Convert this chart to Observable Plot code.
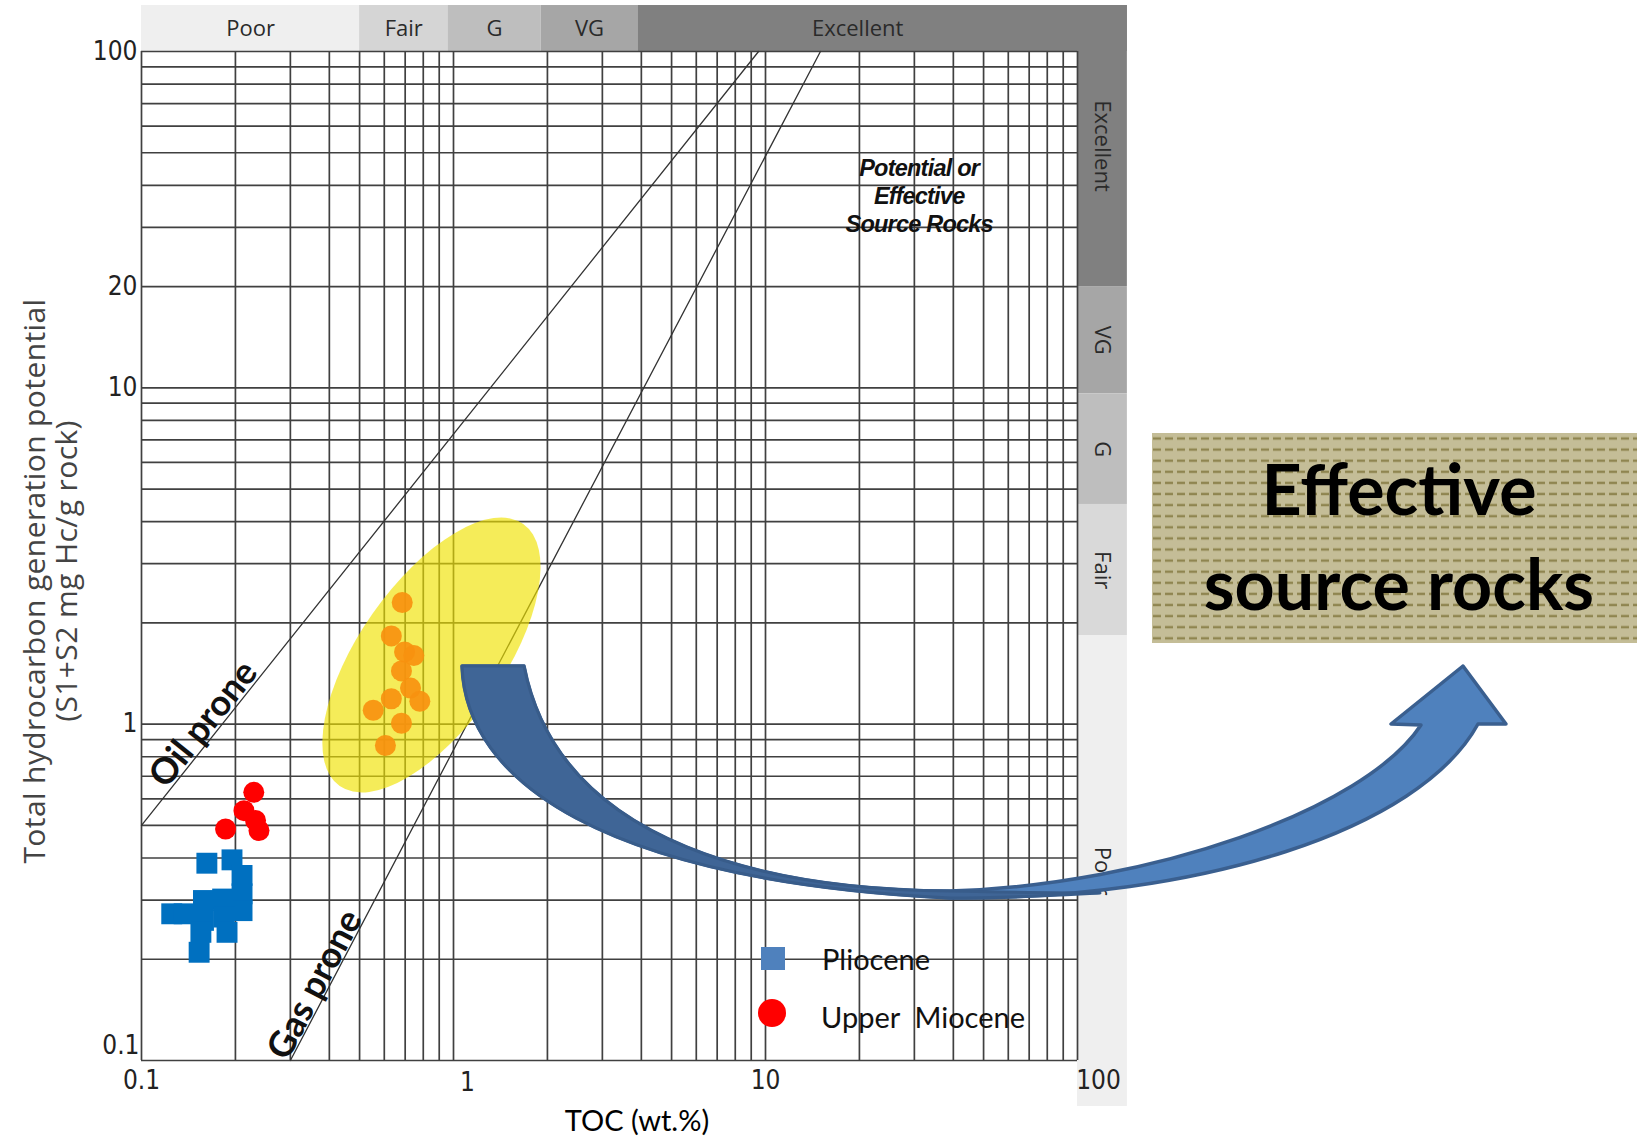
<!DOCTYPE html>
<html><head><meta charset="utf-8">
<script src="https://cdn.jsdelivr.net/npm/d3@7"></script>
<script src="https://cdn.jsdelivr.net/npm/@observablehq/plot@0.6"></script>
<style>
html,body{margin:0;padding:0;background:#fff;}
#chart{width:1637px;height:1136px;overflow:hidden;}
</style></head><body><div id="chart"></div>
<script>
// ---------- data ----------
const plioceneTOC = [0.162, 0.195, 0.210, 0.210, 0.210, 0.125, 0.137, 0.158, 0.182, 0.158, 0.184, 0.155, 0.188, 0.153];
const plioceneS   = [0.386, 0.395, 0.355, 0.313, 0.279, 0.273, 0.273, 0.299, 0.302, 0.261, 0.267, 0.2405, 0.2405, 0.2098];
const upperMioceneTOC = [0.229, 0.213, 0.186, 0.232, 0.238];
const upperMioceneS   = [0.627, 0.553, 0.488, 0.517, 0.483];
const effectiveTOC = [0.685, 0.632, 0.697, 0.746, 0.681, 0.728, 0.780, 0.632, 0.553, 0.681, 0.605];
const effectiveS   = [2.30, 1.83, 1.64, 1.60, 1.44, 1.28, 1.17, 1.19, 1.10, 1.006, 0.864];

const tocClasses = ["Poor", "Fair", "G", "VG", "Excellent"];
const tocBounds  = [0.1, 0.5, 0.96, 1.91, 3.9, 144.5];
const tocFills   = ["#efefef", "#d5d5d5", "#bebebe", "#a6a6a6", "#808080"];
const topBandS   = [100, 137];

const sClasses = ["Excellent", "VG", "G", "Fair", "Poor"];
const sBounds  = [137, 20, 9.6, 4.5, 1.83, 0.073];
const sFills   = ["#808080", "#a6a6a6", "#bebebe", "#d9d9d9", "#efefef"];
const rightBandTOC = [100, 144.5];

const oilProneTOC = [0.1, 9.5];
const oilProneS   = [0.5, 100];
const gasProneTOC = [0.3, 15];
const gasProneS   = [0.1, 100];

const xTickVals = [0.1, 1, 10, 100];
const yTickVals = [100, 20, 10, 1, 0.1];

const effectiveZone = {toc: 0.853, s: 1.6};
const potentialLabel = {toc: 31.2, s: 37.3, lines: ["Potential or", "Effective", "Source Rocks"]};

// ---------- derived tables ----------
const topBands = tocClasses.map((name, i) => ({name, x1: tocBounds[i], x2: tocBounds[i + 1], y1: topBandS[0], y2: topBandS[1], fill: tocFills[i]}));
const rightBands = sClasses.map((name, i) => ({name, x1: rightBandTOC[0], x2: rightBandTOC[1], y1: sBounds[i + 1], y2: sBounds[i], fill: sFills[i]}));
const gmean = (a, b) => Math.sqrt(a * b);
const pliocene = plioceneTOC.map((x, i) => ({x, y: plioceneS[i]}));
const miocene = upperMioceneTOC.map((x, i) => ({x, y: upperMioceneS[i]}));
const effective = effectiveTOC.map((x, i) => ({x, y: effectiveS[i]}));
const oilLine = oilProneTOC.map((x, i) => ({x, y: oilProneS[i]}));
const gasLine = gasProneTOC.map((x, i) => ({x, y: gasProneS[i]}));
const gridVals = d3.scaleLog().domain([0.1, 100]).ticks();

const narrow = "'DejaVu Sans Condensed','Liberation Sans Narrow',sans-serif";
const sans = "'Open Sans','DejaVu Sans',sans-serif";
const cal = "Lato,'Open Sans',sans-serif";

// ---------- overlay annotations ----------
function overlay(index, scales, values, dims) {
  const g = d3.create("svg:g");
  const defs = g.append("defs");
  const pat = defs.append("pattern").attr("id", "dashpat").attr("patternUnits", "userSpaceOnUse")
    .attr("x", 1152).attr("y", 433).attr("width", 12).attr("height", 11.1);
  pat.append("line").attr("x1", 1).attr("x2", 9).attr("y1", 5.5).attr("y2", 5.5)
    .attr("stroke", "#8f8550").attr("stroke-width", 2.4);
  // potential / effective source rocks label (condensed bold italic)
  const px = scales.x(potentialLabel.toc), py = scales.y(potentialLabel.s);
  const pt = g.append("text").attr("transform", `translate(${px},${py - 28}) scale(0.98,1)`)
    .attr("text-anchor", "middle").attr("dominant-baseline", "central")
    .attr("font-family", "'Liberation Sans',Arial,sans-serif").attr("font-style", "italic").attr("font-weight", 700)
    .attr("font-size", 24).attr("letter-spacing", -0.8).attr("fill", "#111");
  potentialLabel.lines.forEach((t, i) => {
    pt.append("tspan").attr("x", 0).attr("dy", i === 0 ? 0 : 28).text(t);
  });
  // box
  g.append("rect").attr("x", 1152).attr("y", 433).attr("width", 490).attr("height", 210).attr("fill", "#c4bd97");
  g.append("rect").attr("x", 1152).attr("y", 433).attr("width", 490).attr("height", 210).attr("fill", "url(#dashpat)");
  g.append("text").attr("x", 1399).attr("y", 515).attr("text-anchor", "middle")
    .attr("font-family", cal).attr("font-weight", 700).attr("font-size", 70).attr("fill", "#000").text("Effective");
  g.append("text").attr("x", 1399).attr("y", 610).attr("text-anchor", "middle")
    .attr("font-family", cal).attr("font-weight", 700).attr("font-size", 70).attr("fill", "#000").text("source rocks");
  // curved arrow
  const outline = "M462,666 C466,780 600,880 950,898 C1200,900 1420,830 1478,724 L1506,724 L1463,666 L1391,724 L1421,725 C1365,810 1150,885 950,891 C780,890 560,850 524,666 Z";
  const back = "M462,666 C466,780 600,880 950,898 C1010,898 1060,895 1100,893 C1060,893 1000,892 950,891 C780,890 560,850 524,666 Z";
  g.append("path").attr("d", outline).attr("fill", "#4f81bd").attr("stroke", "#3a5f8f").attr("stroke-width", 3.5).attr("stroke-linejoin", "round");
  g.append("path").attr("d", back).attr("fill", "#3f6596").attr("stroke", "#385c8a").attr("stroke-width", 3).attr("stroke-linejoin", "round");
  // legend
  g.append("rect").attr("x", 761).attr("y", 947).attr("width", 24).attr("height", 23).attr("fill", "#4f81bd");
  g.append("circle").attr("cx", 772).attr("cy", 1013).attr("r", 14).attr("fill", "#ff0000");
  g.append("text").attr("x", 822).attr("y", 958).attr("text-anchor", "start").attr("dominant-baseline", "central")
    .attr("font-family", cal).attr("font-size", 29).attr("fill", "#111").text("Pliocene");
  g.append("text").attr("x", 821).attr("y", 1016).attr("text-anchor", "start").attr("dominant-baseline", "central")
    .attr("font-family", cal).attr("font-size", 29).attr("fill", "#111").text("Upper  Miocene");
  // axis titles
  g.append("text").attr("transform", "translate(33,581) rotate(-90)").attr("text-anchor", "middle").attr("dominant-baseline", "central")
    .attr("font-family", sans).attr("font-size", 30).attr("letter-spacing", 0.4).attr("fill", "#444").text("Total hydrocarbon generation potential");
  g.append("text").attr("transform", "translate(65,571) rotate(-90)").attr("text-anchor", "middle").attr("dominant-baseline", "central")
    .attr("font-family", sans).attr("font-size", 30).attr("letter-spacing", 0.4).attr("fill", "#444").text("(S1+S2 mg Hc/g rock)");
  g.append("text").attr("x", 637).attr("y", 1119).attr("text-anchor", "middle").attr("dominant-baseline", "central")
    .attr("font-family", cal).attr("font-size", 29).attr("fill", "#000").text("TOC (wt.%)");
  return g.node();
}

// yellow ellipse drawn around a data centre through the scales
function ellipseRender(index, scales, values, dims, context, next) {
  const g = d3.create("svg:g");
  for (const i of index) {
    g.append("ellipse").attr("cx", 0).attr("cy", 0).attr("rx", 160).attr("ry", 72)
      .attr("transform", `translate(${values.x[i]},${values.y[i]}) rotate(-55)`)
      .attr("fill", "#efe200").attr("fill-opacity", 0.65);
  }
  return g.node();
}

const chart = Plot.plot({
  width: 1637, height: 1136,
  marginLeft: 141, marginRight: 560, marginTop: 51, marginBottom: 76,
  x: {type: "log", domain: [0.1, 100], axis: null},
  y: {type: "log", domain: [0.1, 100], axis: null},
  color: {type: "identity"},
  style: {background: "#fff", overflow: "visible"},
  marks: [
    Plot.rect(topBands, {x1: "x1", x2: "x2", y1: "y1", y2: "y2", fill: "fill"}),
    Plot.rect(rightBands, {x1: "x1", x2: "x2", y1: "y1", y2: "y2", fill: "fill"}),
    Plot.text(topBands, {x: d => gmean(d.x1, Math.min(d.x2, 100)), y: d => gmean(d.y1, d.y2), text: "name", fontFamily: sans, fontSize: 22, fill: "#2a2a2a"}),
    Plot.text(rightBands, {x: d => gmean(d.x1, d.x2), y: d => gmean(d.y1, d.y2), text: "name", rotate: 90, fontFamily: sans, fontSize: 22, fill: "#2a2a2a"}),
    Plot.ruleX(gridVals, {stroke: "#404040", strokeWidth: 1.7}),
    Plot.ruleY(gridVals, {stroke: "#404040", strokeWidth: 1.7}),
    Plot.line(oilLine, {x: "x", y: "y", stroke: "#333", strokeWidth: 1.3}),
    Plot.line(gasLine, {x: "x", y: "y", stroke: "#333", strokeWidth: 1.3}),
    Plot.dot([effectiveZone], {x: "toc", y: "s", r: 1, render: ellipseRender}),
    Plot.dot(effective, {x: "x", y: "y", r: 10.5, fill: "#f7910f", fillOpacity: 0.92}),
    Plot.dot(miocene, {x: "x", y: "y", r: 10.5, fill: "#ff0000"}),
    Plot.dot(pliocene, {x: "x", y: "y", r: 11.8, symbol: "square", fill: "#0070c0"}),
    Plot.text(["Oil prone"], {x: 0.158, y: 1.0, text: d => d, rotate: -51.4, fontFamily: cal, fontWeight: 700, fontSize: 36, fill: "#111"}),
    Plot.text(["Gas prone"], {x: 0.36, y: 0.168, text: d => d, rotate: -62.3, fontFamily: cal, fontWeight: 700, fontSize: 36, fill: "#111"}),
    Plot.text([0.1, 10], {x: d => d, frameAnchor: "bottom", dy: 28, text: d => String(d), fontFamily: narrow, fontSize: 26, fill: "#222"}),
    Plot.text([1], {x: d => d, frameAnchor: "bottom", dy: 30, dx: 14, text: d => String(d), fontFamily: narrow, fontSize: 26, fill: "#222"}),
    Plot.text([100], {x: d => d, frameAnchor: "bottom", dy: 28, dx: 21, text: d => String(d), fontFamily: narrow, fontSize: 26, fill: "#222"}),
    Plot.text(yTickVals.filter(v => v !== 0.1), {y: d => d, frameAnchor: "left", dx: -4, textAnchor: "end", text: d => String(d), fontFamily: narrow, fontSize: 26, fill: "#222"}),
    Plot.text([0.1], {y: d => d, frameAnchor: "left", dx: -2, dy: -15, textAnchor: "end", text: d => String(d), fontFamily: narrow, fontSize: 26, fill: "#222"}),
    overlay
  ]
});
document.getElementById("chart").appendChild(chart);
</script>
</body></html>
